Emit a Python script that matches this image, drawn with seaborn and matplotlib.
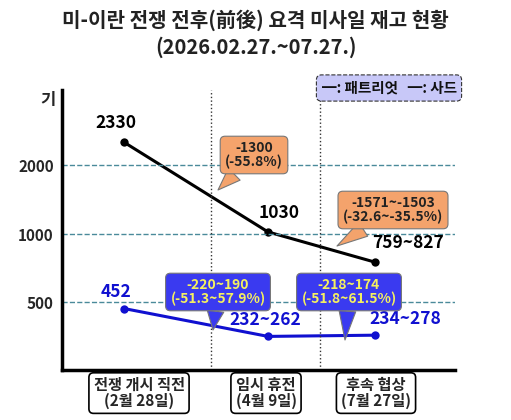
import numpy as np
import pandas as pd
import seaborn as sns
import matplotlib.pyplot as plt

sns.set_theme(style="white")
plt.rcParams['font.family'] = ['Noto Sans CJK KR', 'DejaVu Sans']

# data
stages = ['전쟁 개시 직전\n(2월 28일)', '임시 휴전\n(4월 9일)', '후속 협상\n(7월 27일)']
patriot = [2330, 1030, 793]
thaad = [452, 247, 256]
patriot_labels = ['2330', '1030', '759~827']
thaad_labels = ['452', '232~262', '234~278']
patriot_notes = ['-1300\n(-55.8%)', '-1571~-1503\n(-32.6~-35.5%)']
thaad_notes = ['-220~190\n(-51.3~57.9%)', '-218~174\n(-51.8~61.5%)']
yticks = [500, 1000, 2000]

x_pos = [124, 268, 375]
W, H = 511, 420


def fwd(v):
    v = np.asarray(v, dtype=float)
    return np.where(v <= 1000, v * 0.136, 136 + (v - 1000) * 0.069)


def inv(p):
    p = np.asarray(p, dtype=float)
    return np.where(p <= 136, p / 0.136, 1000 + (p - 136) / 0.069)


def px(x, y):
    return (x, H - y)


fig = plt.figure(figsize=(W / 100, H / 100), dpi=100)
ax = fig.add_axes([62 / W, 1 - 370 / H, (455 - 62) / W, (370 - 90) / H])
ax.set_yscale('function', functions=(fwd, inv))
ax.set_xlim(62, 455)
ax.set_ylim(0, 3087)

df = pd.DataFrame({'x': x_pos * 2, 'y': patriot + thaad,
                   's': ['패트리엇'] * 3 + ['사드'] * 3})
sns.lineplot(data=df, x='x', y='y', hue='s', palette={'패트리엇': 'black', '사드': '#1010d0'},
             marker='o', markersize=6, linewidth=2.2, markeredgewidth=0, legend=False, ax=ax)

for v in yticks:
    ax.axhline(v, color='#4a8a9a', ls='--', lw=1)
for xv in [211, 320]:
    ax.axvline(xv, color='#333333', ls=':', lw=1)
ax.set_yticks(yticks)
ax.set_yticklabels([str(v) for v in yticks], fontsize=11, fontweight='bold')
ax.set_xticks([])
ax.set_xlabel('')
ax.set_ylabel('')
ax.tick_params(axis='y', length=0, pad=6)
for s in ['top', 'right']:
    ax.spines[s].set_visible(False)
ax.spines['left'].set_linewidth(2.5)
ax.spines['bottom'].set_linewidth(2.5)
ax.spines['left'].set_color('black')
ax.spines['bottom'].set_color('black')

fig.text(48 / W, 1 - 100 / H, '기', fontsize=12, fontweight='bold', ha='center', va='center')

p_off = [(-6, 10), (8, 10), (24, 10)]
t_off = [(-6, 8), (-2, 8), (22, 8)]
for xv, v, lab, o in zip(x_pos, patriot, patriot_labels, p_off):
    ax.annotate(lab, (xv, v), xytext=o, textcoords='offset points', ha='center',
                fontsize=12.5, fontweight='bold', color='black')
for xv, v, lab, o in zip(x_pos, thaad, thaad_labels, t_off):
    ax.annotate(lab, (xv, v), xytext=o, textcoords='offset points', ha='center',
                fontsize=12.5, fontweight='bold', color='#1010d0')

callouts = [
    (patriot_notes[0], (254, 155), (218, 190), '#f4a36c', '#222222'),
    (patriot_notes[1], (393, 210), (337, 246), '#f4a36c', '#222222'),
    (thaad_notes[0], (218, 292), (213, 330), '#3a3af0', '#f5f060'),
    (thaad_notes[1], (349, 292), (345, 340), '#3a3af0', '#f5f060'),
]
for txt, c, tip, fc, tc in callouts:
    ax.annotate(txt, xy=px(*tip), xycoords='figure pixels', xytext=px(*c), textcoords='figure pixels',
                ha='center', va='center', fontsize=10, fontweight='bold', color=tc, linespacing=0.95,
                bbox=dict(boxstyle='round,pad=0.35', fc=fc, ec='#777777', lw=0.8),
                arrowprops=dict(arrowstyle='wedge,tail_width=1.2,shrink_factor=0.5', fc=fc,
                                ec='#777777', lw=0.8, shrinkA=0, shrinkB=0),
                zorder=5)

for xc, lab in zip([139, 266, 376], stages):
    fig.text(xc / W, 1 - 393 / H, lab, ha='center', va='center', fontsize=11, fontweight='bold',
             linespacing=0.95,
             bbox=dict(boxstyle='round,pad=0.3', fc='white', ec='black', lw=1.2))

fig.text(389 / W, 1 - 88 / H, '━: 패트리엇   ━: 사드', ha='center', va='center', fontsize=10.5,
         fontweight='bold', color='#111111',
         bbox=dict(boxstyle='round,pad=0.35', fc='#c8c8f8', ec='#333333', ls='--', lw=0.8))

fig.text(0.5, 1 - 20 / H, '미-이란 전쟁 전후(前後) 요격 미사일 재고 현황', ha='center', va='center',
         fontsize=14.5, fontweight='bold', color='#222222')
fig.text(0.5, 1 - 47 / H, '(2026.02.27.~07.27.)', ha='center', va='center',
         fontsize=14.5, fontweight='bold', color='#222222')

fig.savefig('out.png', dpi=100)
